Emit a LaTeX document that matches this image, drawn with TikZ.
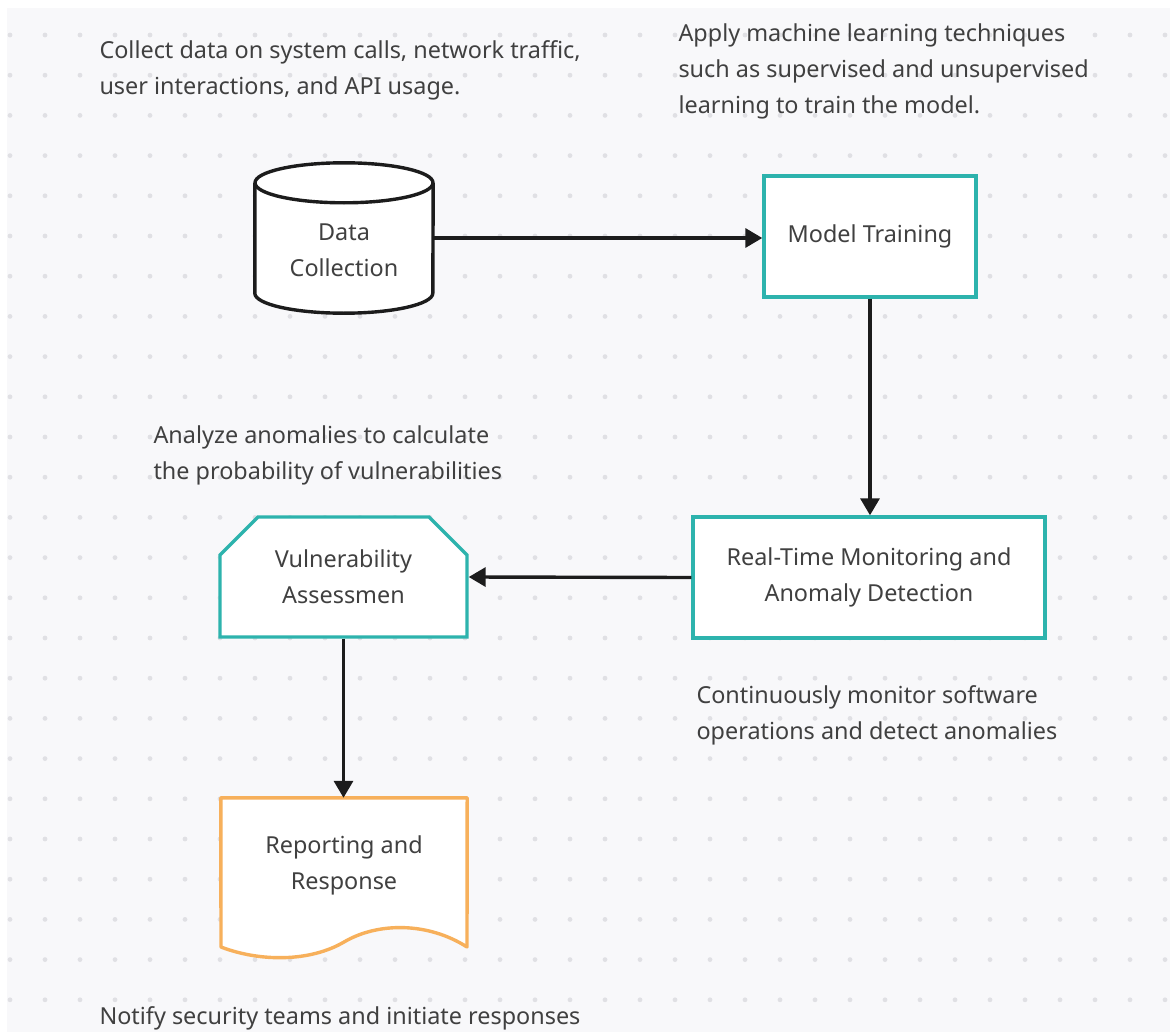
\documentclass[tikz,border=0pt]{standalone}
\usepackage{fontspec}
\setmainfont{Noto Sans}
\usepackage{xcolor}
\definecolor{fondo}{HTML}{F8F8FA}
\definecolor{punto}{HTML}{E0E0E4}
\definecolor{turquesa}{HTML}{2DB3AD}
\definecolor{naranja}{HTML}{F7B05B}
\definecolor{texto}{HTML}{404040}
\definecolor{flecha}{HTML}{1C1C1C}
\usetikzlibrary{arrows.meta, positioning, shapes.misc}

\begin{document}
\begin{tikzpicture}[x=1pt, y=-1pt,
    every node/.style={font=\fontsize{23.4}{36}\selectfont, text=texto},
    proceso/.style={rectangle, draw=turquesa, line width=3.4pt, fill=white, align=center, minimum width=212, minimum height=121},
    evaluar/.style={chamfered rectangle, chamfered rectangle corners={north west, north east}, chamfered rectangle xsep=18pt, chamfered rectangle ysep=20pt, draw=turquesa, line width=3.4pt, fill=white, align=center, minimum width=247, minimum height=120, inner sep=0pt},
    almacen/.style={rectangle, draw=none, minimum width=178, minimum height=150, inner sep=0pt},
    documento/.style={rectangle, draw=none, align=center, minimum width=246, minimum height=134, inner sep=0pt},
    nota/.style={anchor=west, align=left},
    borde/.style={draw=flecha, line width=3.4pt},
    arrow/.style={line width=3.4pt, draw=flecha, -{Triangle[length=17pt, width=19pt]}}
]
    % Fondo
    \fill[white] (0,0) rectangle (1170,1032);
    \fill[fondo] (7,8) rectangle (1170,1032);
    \foreach \i in {0,...,33}
        \foreach \j in {0,...,24}
            \fill[punto] (10+35*\i, 35+40.2*\j) circle (2.4);

    % Nodos
    \node (datos) [almacen] at (344,238) {};
    \fill[white] ([yshift=-20pt]datos.north west) -- ([yshift=20pt]datos.south west) arc[start angle=180, end angle=0, x radius=89, y radius=20] -- ([yshift=-20pt]datos.north east) -- cycle;
    \draw[borde] ([yshift=-20pt]datos.north west) -- ([yshift=20pt]datos.south west) arc[start angle=180, end angle=0, x radius=89, y radius=20] -- ([yshift=-20pt]datos.north east);
    \draw[borde, fill=white] ([yshift=-20pt]datos.north) ellipse [x radius=89, y radius=20];
    \node (datosTxt) [align=center] at (344,250) {Data\\Collection};

    \node (entreno) [proceso] at (870,236.5) {Model Training};
    \node (tiempo) [proceso, minimum width=352] at (869,577.5) {Real-Time Monitoring and\\Anomaly Detection};
    \node (evalua) [evaluar] at (343.5,577) {Vulnerability\\Assessmen};

    \node (informe) [documento] at (344,865) {Reporting and\\Response};
    \filldraw[draw=naranja, fill=white, line width=3.4pt, line join=round] (informe.north west) -- (informe.north east) -- (467,947) .. controls (428,922) and (378,922) .. (344,942) .. controls (310,962) and (260,962) .. (221,947) -- cycle;
    \node (informeTxt) [align=center] at (informe.center) {Reporting and\\Response};

    % Notas
    \node (notaDatos) [nota] at (96,70) {Collect data on system calls, network traffic,\\user interactions, and API usage.};
    \node (notaEntreno) [nota] at (675,71) {Apply machine learning techniques\\such as supervised and unsupervised\\learning to train the model.};
    \node (notaEvalua) [nota] at (150,455) {Analyze anomalies to calculate\\the probability of vulnerabilities};
    \node (notaTiempo) [nota] at (693,715) {Continuously monitor software\\operations and detect anomalies};
    \node (notaInforme) [nota] at (96,1018) {Notify security teams and initiate responses};

    % Conexiones
    \draw [arrow] (datos.east) -- (datos.east -| entreno.west);
    \draw [arrow] (entreno.south) -- (entreno.south |- tiempo.north);
    \draw [arrow] (tiempo.west) -- (evalua.east);
    \draw [arrow] (evalua.south) -- (evalua.south |- informe.north);

    \useasboundingbox (0,0) rectangle (1170,1032);
\end{tikzpicture}
\end{document}
